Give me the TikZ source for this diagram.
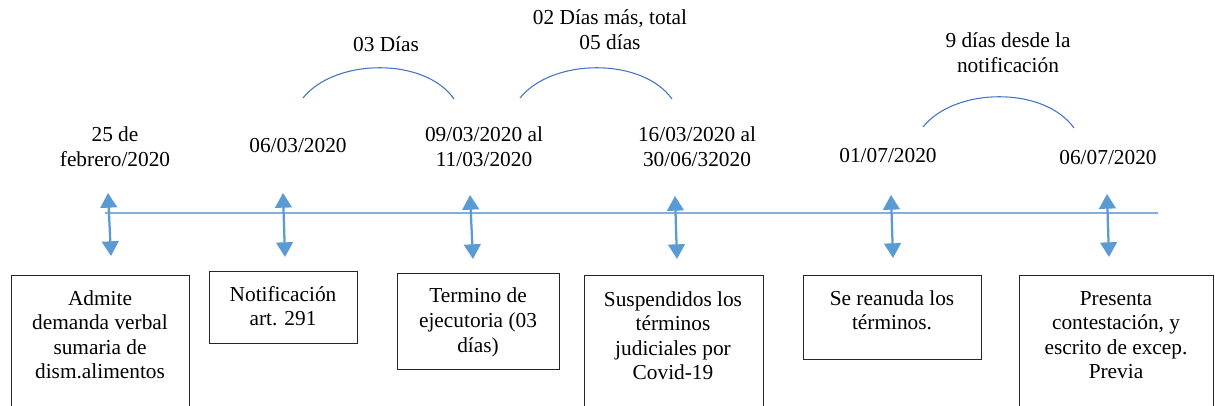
\documentclass[tikz,border=0pt]{standalone}
\usepackage{fontspec}
\setmainfont{Liberation Serif}
\usetikzlibrary{arrows.meta}
\definecolor{tlblue}{HTML}{80B0E0}
\definecolor{arrblue}{HTML}{5B9BD5}
\definecolor{arcblue}{HTML}{4472C4}
\begin{document}
\begin{tikzpicture}[x=0.75pt,y=-0.75pt,
  lbl/.style={font=\rmfamily\fontsize{16}{18.375}\selectfont, align=center, inner sep=0pt, anchor=base},
  evbox/.style={draw=black!85, line width=0.9pt, anchor=north west, inner sep=0pt},
  arr/.style={draw=arrblue, line width=1.7pt, {Triangle[width=12.5pt,length=11pt]}-{Triangle[width=12.5pt,length=11pt]}},
  arcl/.style={draw=arcblue, line width=0.8pt},
  tline/.style={draw=tlblue, line width=1.1pt}]
\clip (0,0) rectangle (1215,406);
\fill[white] (0,0) rectangle (1215,406);

% timeline
\coordinate (tl0) at (105,213);
\coordinate (tl1) at (1158,213);
\draw[tline] (tl0) -- (tl1);

% date labels (anchor = baseline of last line)
\node[lbl] (d1) at (115,166.5) {25 de\\febrero/2020};
\node[lbl] (d2) at (298,153) {06/03/2020};
\node[lbl] (d3) at (484,166.5) {09/03/2020 al\\11/03/2020};
\node[lbl] (d4) at (697,166.5) {16/03/2020 al\\30/06/32020};
\node[lbl] (d5) at (888,163) {01/07/2020};
\node[lbl] (d6) at (1108,165) {06/07/2020};

% arc labels
\node[lbl] (l1) at (386,52) {03 Días};
\node[lbl] (l2) at (610,49.5) {02 Días más, total\\05 días};
\node[lbl] (l3) at (1008,72.5) {9 días desde la\\notificación};

% arcs
\coordinate (c1a) at (303,98);  \coordinate (c1b) at (454,99);
\coordinate (c2a) at (520,98);  \coordinate (c2b) at (672,99);
\coordinate (c3a) at (923,127); \coordinate (c3b) at (1074,128);
\draw[arcl] (c1a) .. controls (335,58) and (425,57) .. (c1b);
\draw[arcl] (c2a) .. controls (552,58) and (642,57) .. (c2b);
\draw[arcl] (c3a) .. controls (955,87) and (1044,86) .. (c3b);

% arrows
\coordinate (a1t) at (108,193);  \coordinate (a1b) at (111,256);
\coordinate (a2t) at (283,193);  \coordinate (a2b) at (285,257);
\coordinate (a3t) at (470,195);  \coordinate (a3b) at (473,259);
\coordinate (a4t) at (675,196);  \coordinate (a4b) at (677,259);
\coordinate (a5t) at (891,195);  \coordinate (a5b) at (893,258);
\coordinate (a6t) at (1107,194); \coordinate (a6b) at (1109,257);
\draw[arr] (a1t) -- (a1b);
\draw[arr] (a2t) -- (a2b);
\draw[arr] (a3t) -- (a3b);
\draw[arr] (a4t) -- (a4b);
\draw[arr] (a5t) -- (a5b);
\draw[arr] (a6t) -- (a6b);

% boxes
\node[evbox, minimum width=133.5pt, minimum height=116pt] (b1) at (11,275) {};
\node[evbox, minimum width=111pt, minimum height=54pt] (b2) at (209,271) {};
\node[evbox, minimum width=121.5pt, minimum height=72pt] (b3) at (397,273) {};
\node[evbox, minimum width=134.25pt, minimum height=116pt] (b4) at (584,275) {};
\node[evbox, minimum width=133.5pt, minimum height=63pt] (b5) at (803,275) {};
\node[evbox, minimum width=145.5pt, minimum height=116pt] (b6) at (1019,275) {};

% box texts (anchor = baseline of last line)
\node[lbl] (t1) at (100,378.5) {Admite\\demanda verbal\\sumaria de\\dism.alimentos};
\node[lbl] (t2) at (283,325.5) {Notificación\\art. 291};
\node[lbl] (t3) at (478,352) {Termino de\\ejecutoria (03\\días)};
\node[lbl] (t4) at (673,379.5) {Suspendidos los\\términos\\judiciales por\\Covid-19};
\node[lbl] (t5) at (892,329.5) {Se reanuda los\\términos.};
\node[lbl] (t6) at (1116,378.5) {Presenta\\contestación, y\\escrito de excep.\\Previa};
\end{tikzpicture}
\end{document}
